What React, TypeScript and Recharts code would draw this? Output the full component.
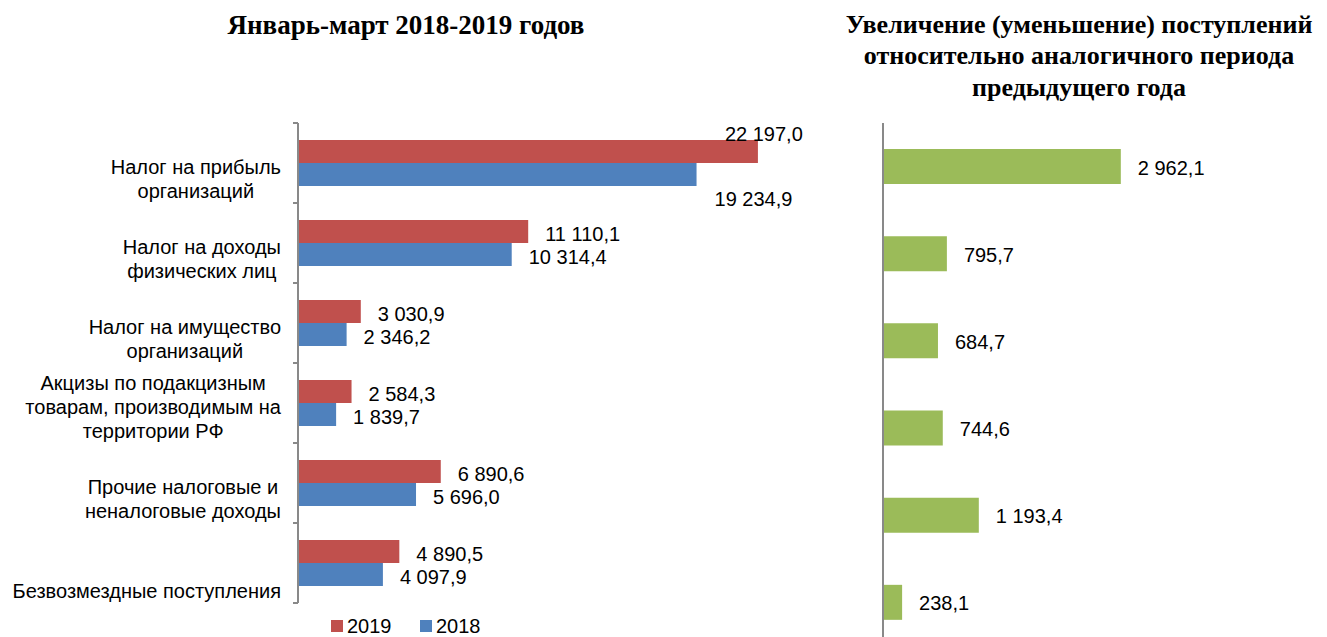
import React from 'react';
import { BarChart, Bar, XAxis, YAxis, LabelList, ReferenceLine } from 'recharts';

// ---------- data ----------
const categories = [
  'Налог на прибыль\nорганизаций',
  'Налог на доходы\nфизических лиц',
  'Налог на имущество\nорганизаций',
  'Акцизы по подакцизным\nтоварам, производимым на\nтерритории РФ',
  'Прочие налоговые и\nненалоговые доходы',
  'Безвозмездные поступления',
];
const values2019 = [22197.0, 11110.1, 3030.9, 2584.3, 6890.6, 4890.5];
const values2018 = [19234.9, 10314.4, 2346.2, 1839.7, 5696.0, 4097.9];
const changes = [2962.1, 795.7, 684.7, 744.6, 1193.4, 238.1];
const seriesNames = ['2019', '2018'];
const leftTitle = 'Январь-март 2018-2019 годов';
const rightTitleLines = [
  'Увеличение (уменьшение) поступлений',
  'относительно аналогичного периода',
  'предыдущего года',
];

const leftData = categories.map((name, i) => ({ name, y2019: values2019[i], y2018: values2018[i] }));
const rightData = categories.map((name, i) => ({ name, change: changes[i] }));

// ---------- styles ----------
const RED = '#C0504D';
const BLUE = '#4F81BD';
const GREEN = '#9BBB59';
const AXIS = '#898989';
const SANS = '"Liberation Sans", Arial, sans-serif';
const SERIF = '"Liberation Serif", "Times New Roman", serif';
const FS = 20;

const LEFT_TOP = 123;
const LEFT_PLOT_H = 480;
const LEFT_W = 840;
const LEFT_AXIS_W = 298;
const LEFT_RIGHT_M = 24;

const fmt = (v: number) => {
  const [i, d] = v.toFixed(1).split('.');
  return i.replace(/\B(?=(\d{3})+(?!\d))/g, ' ') + ',' + d;
};

let ctx: CanvasRenderingContext2D | null = null;
const measure = (s: string) => {
  try {
    if (!ctx) ctx = document.createElement('canvas').getContext('2d');
    if (ctx) {
      ctx.font = `${FS}px "Liberation Sans"`;
      return ctx.measureText(s).width;
    }
  } catch (e) {}
  return s.length * FS * 0.5;
};

const CategoryTick = (props: any) => {
  const { x, y, payload } = props;
  const band = LEFT_PLOT_H / categories.length;
  const lines = String(payload.value).split('\n');
  const maxW = Math.max(...lines.map(measure));
  const cx = x - 17 - maxW / 2;
  const lastBase = y + band / 2 - 5;
  const lh = 24;
  return (
    <g>
      <line x1={x - 5} x2={x} y1={y - band / 2} y2={y - band / 2} stroke={AXIS} strokeWidth={2} />
      <line x1={x - 5} x2={x} y1={y + band / 2} y2={y + band / 2} stroke={AXIS} strokeWidth={2} />
      {lines.map((l, i) => (
        <text key={i} x={cx} y={lastBase - (lines.length - 1 - i) * lh} textAnchor="middle"
          fontSize={FS} fontFamily={SANS} fill="#000">{l}</text>
      ))}
    </g>
  );
};

const getBox = (props: any) => {
  const vb = props.viewBox || {};
  return {
    x: vb.x ?? props.x,
    y: vb.y ?? props.y,
    width: vb.width ?? props.width,
    height: vb.height ?? props.height,
  };
};

const makeLabel = (series: string) => (props: any) => {
  const { x, y, width, height } = getBox(props);
  const { value, index } = props;
  const end = x + width;
  let tx = end + 17;
  let ty = y + height / 2 + 9;
  if (index === 0 && series === '2019') { tx = end - 33; ty = y + 1; }
  if (index === 0 && series === '2018') { tx = end + 18; ty = y + height + 20; }
  return (
    <text x={tx} y={ty} fontSize={FS} fontFamily={SANS} fill="#000">{fmt(Number(value))}</text>
  );
};

const greenLabel = (props: any) => {
  const { x, y, width, height } = getBox(props);
  return (
    <text x={x + width + 17} y={y + height / 2 + 8} fontSize={FS} fontFamily={SANS} fill="#000">
      {fmt(Number(props.value))}
    </text>
  );
};

export default function App() {
  return (
    <div style={{ position: 'absolute', left: 0, top: 0, width: 1327, height: 637, overflow: 'hidden', background: '#fff' }}>
      {/* left title */}
      <div style={{ position: 'absolute', left: 0, top: 10, width: 812, textAlign: 'center', fontFamily: SERIF, fontWeight: 'bold', fontSize: 27, lineHeight: '31.5px', color: '#000', whiteSpace: 'nowrap' }}>
        {leftTitle}
      </div>
      {/* right title */}
      <div style={{ position: 'absolute', left: 830, top: 8.5, width: 498, textAlign: 'center', fontFamily: SERIF, fontWeight: 'bold', fontSize: 26, lineHeight: '31.5px', color: '#000', whiteSpace: 'nowrap' }}>
        {rightTitleLines.map((l, i) => <div key={i}>{l}</div>)}
      </div>

      {/* left chart */}
      <div style={{ position: 'absolute', left: 0, top: 0 }}>
        <BarChart width={LEFT_W} height={637} data={leftData} layout="vertical"
          margin={{ top: LEFT_TOP, right: LEFT_RIGHT_M, bottom: 637 - LEFT_TOP - LEFT_PLOT_H, left: 0 }}
          barCategoryGap={17} barGap={0}>
          <XAxis type="number" domain={[0, 25000]} hide />
          <YAxis type="category" dataKey="name" width={LEFT_AXIS_W} tick={<CategoryTick />}
            tickLine={false} tickSize={0} tickMargin={0} interval={0}
            axisLine={{ stroke: AXIS, strokeWidth: 2 }} />
          <Bar dataKey="y2019" name={seriesNames[0]} fill={RED} isAnimationActive={false}>
            <LabelList dataKey="y2019" content={makeLabel('2019')} />
          </Bar>
          <Bar dataKey="y2018" name={seriesNames[1]} fill={BLUE} isAnimationActive={false}>
            <LabelList dataKey="y2018" content={makeLabel('2018')} />
          </Bar>
        </BarChart>
      </div>

      {/* legend */}
      {[{ n: seriesNames[0], c: RED, l: 331 }, { n: seriesNames[1], c: BLUE, l: 420 }].map((it) => (
        <div key={it.n}>
          <div style={{ position: 'absolute', left: it.l, top: 620, width: 12, height: 12, background: it.c }} />
          <div style={{ position: 'absolute', left: it.l + 16, top: 616, fontFamily: SANS, fontSize: FS, lineHeight: '20px', color: '#000' }}>{it.n}</div>
        </div>
      ))}

      {/* right chart */}
      <div style={{ position: 'absolute', left: 850, top: 0 }}>
        <BarChart width={477} height={646} data={rightData} layout="vertical"
          margin={{ top: 123, right: 163, bottom: 0, left: 33 }} barCategoryGap={26}>
          <XAxis type="number" domain={[0, 3500]} hide />
          <YAxis type="category" dataKey="name" hide />
          <Bar dataKey="change" fill={GREEN} isAnimationActive={false}>
            <LabelList dataKey="change" content={greenLabel} />
          </Bar>
          <ReferenceLine x={0} stroke={AXIS} strokeWidth={2} />
        </BarChart>
      </div>
    </div>
  );
}
